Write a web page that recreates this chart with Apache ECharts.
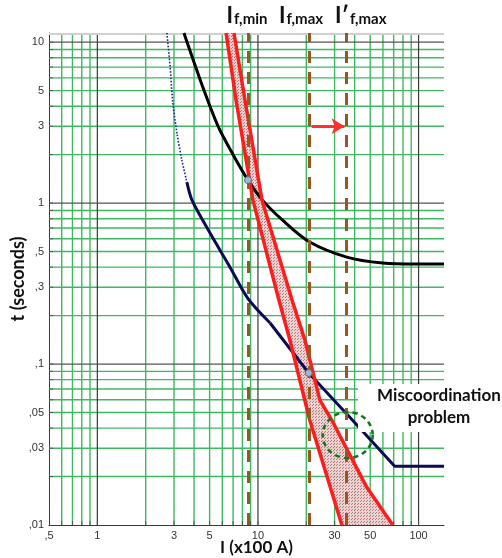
<!DOCTYPE html>
<html><head><meta charset="utf-8">
<script src="https://cdn.jsdelivr.net/npm/echarts@6/dist/echarts.min.js"></script>
<style>html,body{margin:0;padding:0;background:#fff}#c{width:502px;height:558px}</style>
</head><body><div id="c"></div>
<script>
// ---- axis ticks / grid values ----
const xTickLabels = [0.5, 1, 3, 5, 10, 30, 50, 100];
const yTickLabels = [0.01, 0.03, 0.05, 0.1, 0.3, 0.5, 1, 3, 5, 10];
const xMinorGrid = [0.6,0.7,0.8,0.9,2,3,4,5,6,7,8,9,20,30,40,50,60,70,80,90];
const xDecadeGrid = [1, 10, 100];
const yMinorGrid = [0.02,0.03,0.04,0.05,0.06,0.07,0.08,0.09,0.2,0.3,0.4,0.5,0.6,0.7,0.8,0.9,2,3,4,5,6,7,8,9];
const yDecadeGrid = [0.1, 1, 10];
const xMin = 0.5, xMax = 144, yMin = 0.01, yMax = 11.4;

// ---- curves (I x100 A, t seconds) ----
const blackCurve = [[3.46,11.4],[3.62,10],[4.62,5],[5.65,3],[7.0,2],[8.67,1.39],[10.7,1.04],[14.3,0.78],[21.0,0.573],[35.7,0.462],[59.7,0.424],[97,0.418],[144,0.418]];
const navyDotted = [[2.71,11.4],[2.84,7.0],[2.94,4.37],[3.13,2.72],[3.36,1.85],[3.61,1.35]];
const navyCurved = [[3.61,1.35],[3.89,1.04],[5.03,0.652],[6.70,0.40],[8.67,0.255],[11.9,0.18]];
const navyStraight = [[11.9,0.18],[20.7,0.088],[37.2,0.0469],[71.0,0.0232],[144,0.0232]];
const redLeft = [[6.33,11.4],[7.30,4.37],[9.31,1.04],[13.5,0.25],[15.8,0.141],[21.0,0.0449],[33.3,0.01]];
const redRight = [[7.09,11.4],[8.30,4.37],[10.6,1.04],[16.3,0.25],[19.6,0.141],[24.3,0.0597],[28.8,0.0449],[47.5,0.0172],[69,0.01]];

// ---- annotations ----
const IfMin = 8.67, IfMax = 20.8, IfMaxPrime = 35.7;
const contactPoints = [[8.67,1.39],[20.7,0.088]];
const arrowT = 3, arrowFrom = 21.6, arrowTo = 34.6;
const miscoordCircle = [[36.2, 0.0362]];

const FONT = 'Lato, "Open Sans", sans-serif';
const green = '#3fb862';
const dark = '#3a3a3a';

function fmt(v){
  const s = String(+(+v).toPrecision(3));
  return s.replace(/^0\./, ',');
}

// dotted pink pattern for band
const pat = document.createElement('canvas');
pat.width = 3; pat.height = 3;
const pc = pat.getContext('2d');
pc.fillStyle = '#ecd0d0'; pc.fillRect(0,0,3,3);
pc.fillStyle = '#b46a6a'; pc.fillRect(0,0,1,1); pc.fillRect(1,2,1,1);

function gridRender(params, api){
  const kids = [];
  const bl = api.coord([xMin, yMin]), tr = api.coord([xMax, yMax]);
  function vline(v, color, w){
    const x = api.coord([v, yMin])[0];
    kids.push({type: 'line', shape: {x1: x, y1: tr[1], x2: x, y2: bl[1]}, style: {stroke: color, lineWidth: w}});
    kids.push({type: 'line', shape: {x1: x, y1: bl[1] - 4, x2: x, y2: bl[1]}, style: {stroke: '#555', lineWidth: 1}});
  }
  function hline(v, color, w){
    const y = api.coord([xMin, v])[1];
    kids.push({type: 'line', shape: {x1: bl[0], y1: y, x2: tr[0], y2: y}, style: {stroke: color, lineWidth: w}});
    kids.push({type: 'line', shape: {x1: bl[0], y1: y, x2: bl[0] + 4, y2: y}, style: {stroke: '#555', lineWidth: 1}});
  }
  xMinorGrid.forEach(v => vline(v, green, 1.4));
  yMinorGrid.forEach(v => hline(v, green, 1.4));
  xDecadeGrid.forEach(v => vline(v, dark, 1.2));
  yDecadeGrid.forEach(v => hline(v, '#555', 1.2));
  kids.push({type: 'line', shape: {x1: bl[0], y1: tr[1] + 1, x2: tr[0], y2: tr[1] + 1}, style: {stroke: '#d0d0d0', lineWidth: 2}});
  return {type: 'group', children: kids};
}

const chart = echarts.init(document.getElementById('c'));
const richLab = {
  a: {fontSize: 22, fontWeight: 'bold', fontFamily: FONT, color: '#111'},
  b: {fontSize: 15, fontWeight: 'bold', fontFamily: FONT, color: '#111', verticalAlign: 'bottom', padding: [0,0,0,1]}
};
chart.setOption({
  animation: false,
  grid: {left: 49, right: 58, top: 33, bottom: 33, containLabel: false, outerBoundsMode: 'none'},
  xAxis: {
    type: 'log', logBase: 10, min: xMin, max: xMax,
    name: 'I (x100 A)', nameLocation: 'middle', nameGap: 14, nameMoveOverlap: false,
    nameTextStyle: {fontFamily: FONT, fontWeight: 'bold', fontSize: 17, color: '#111', padding: [0, 0, 0, 20]},
    axisLine: {show: true, lineStyle: {color: dark, width: 1}},
    axisTick: {show: false},
    axisLabel: {customValues: xTickLabels, formatter: fmt, fontSize: 11, color: '#333', margin: 5, fontFamily: 'Liberation Sans, Arial', alignMinLabel: 'center', alignMaxLabel: 'center'},
    splitLine: {show: false}, minorTick: {show: false}, minorSplitLine: {show: false}
  },
  yAxis: {
    type: 'log', logBase: 10, min: yMin, max: yMax,
    name: 't (seconds)', nameLocation: 'middle', nameGap: 22, nameRotate: 90, nameMoveOverlap: false,
    nameTextStyle: {fontFamily: FONT, fontWeight: 'bold', fontSize: 18, color: '#111'},
    axisLine: {show: true, lineStyle: {color: dark, width: 1}},
    axisTick: {show: false},
    axisLabel: {customValues: yTickLabels, formatter: fmt, fontSize: 11, color: '#333', margin: 5, fontFamily: 'Liberation Sans, Arial', verticalAlignMinLabel: 'middle'},
    splitLine: {show: false}, minorTick: {show: false}, minorSplitLine: {show: false}
  },
  graphic: [
    {type: 'rect', z: 5, shape: {x: 358, y: 384, width: 144, height: 48}, style: {fill: '#fff'}},
    {type: 'text', z: 6, x: 439, y: 407, style: {text: 'Miscoordination\nproblem', align: 'center', verticalAlign: 'middle', fontFamily: FONT, fontWeight: 'bold', fontSize: 17, lineHeight: 22, fill: '#111'}}
  ],
  series: [
    {type: 'custom', z: 1, silent: true, data: [0], renderItem: gridRender},
    { // band fill
      type: 'custom', z: 2, silent: true, data: [0],
      renderItem: function(params, api){
        const pts = redLeft.map(p => api.coord(p)).concat(redRight.slice().reverse().map(p => api.coord(p)));
        return {type: 'polygon', shape: {points: pts}, style: {fill: {image: pat, repeat: 'repeat'}, opacity: 0.9}};
      }
    },
    {type: 'line', name: 'black', data: blackCurve, smooth: 0.3, symbol: 'none', z: 3, lineStyle: {color: '#000', width: 3}},
    {type: 'line', name: 'navyDot', data: navyDotted, smooth: 0.3, symbol: 'none', z: 3, lineStyle: {color: '#1a2a9a', width: 1.6, type: 'dotted'}},
    {type: 'line', name: 'navyC', data: navyCurved, smooth: 0.3, symbol: 'none', z: 3, lineStyle: {color: '#0b0b55', width: 3}},
    {type: 'line', name: 'navyS', data: navyStraight, smooth: false, symbol: 'none', z: 3, lineStyle: {color: '#0b0b55', width: 3}},
    {type: 'line', name: 'redL', data: redLeft, smooth: false, symbol: 'none', z: 3, lineStyle: {color: '#ff1c1c', width: 3.5}},
    {type: 'line', name: 'redR', data: redRight, smooth: false, symbol: 'none', z: 3, lineStyle: {color: '#ff1c1c', width: 3.5}},
    { // dashed current lines + labels + arrow
      type: 'line', data: [], z: 4, silent: true,
      markLine: {
        silent: true, symbol: ['none','none'], emphasis: {disabled: true},
        lineStyle: {color: '#9b5523', width: 3, type: [12, 9]},
        label: {show: true, position: 'end', distance: 6, rich: richLab},
        data: [
          {xAxis: IfMin, label: {formatter: '{a|I}{b|f,min}', offset: [-1, 0]}},
          {xAxis: IfMax, label: {formatter: '{a|I}{b|f,max}', offset: [-8, 0]}},
          {xAxis: IfMaxPrime, label: {formatter: '{a|I\u2032}{b|f,max}', offset: [14, 0]}},
          [
            {coord: [arrowFrom, arrowT], symbol: 'none', lineStyle: {color: '#ff3030', width: 3, type: 'solid'}, label: {show: false}},
            {coord: [arrowTo, arrowT], symbol: 'arrow', symbolSize: [12, 13]}
          ]
        ]
      }
    },
    {type: 'scatter', data: contactPoints, z: 6, symbolSize: 7, itemStyle: {color: '#a9b4cf', borderColor: '#5b6a8a', borderWidth: 1, opacity: 1}},
    {type: 'scatter', data: miscoordCircle, z: 10, symbol: 'circle', symbolSize: [50, 46], silent: true,
      itemStyle: {color: 'rgba(0,0,0,0)', borderColor: '#15751f', borderWidth: 2.5, borderType: [5, 4], opacity: 1}}
  ]
});
</script></body></html>
